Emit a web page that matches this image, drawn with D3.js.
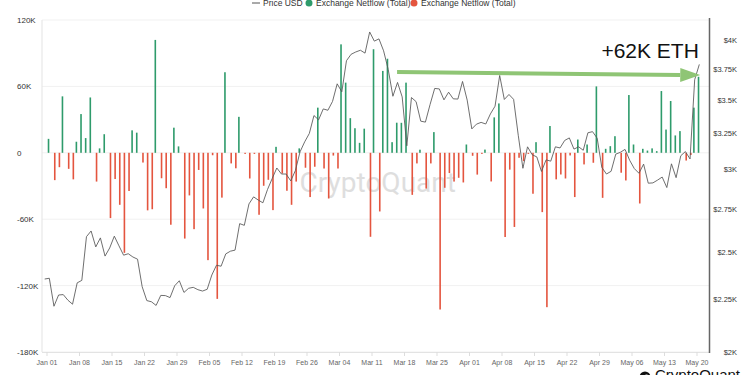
<!DOCTYPE html>
<html>
<head>
<meta charset="utf-8">
<script src="https://cdn.jsdelivr.net/npm/d3@7"></script>
<style>
    html, body { margin: 0; padding: 0; background: #fff; }
    svg { display: block; font-family: "Liberation Sans", Arial, sans-serif; }
</style>
</head>
<body>
<div id="chart"></div>
<script>
//--------------------------------------------------
// data
//--------------------------------------------------

// week tick labels (day index from Jan 01)
const tickDays = [0, 7, 14, 21, 28, 35, 42, 49, 56, 63, 70, 77, 84, 91, 98, 105, 112, 119, 126, 133, 140];
const tickLabels = ["Jan 01", "Jan 08", "Jan 15", "Jan 22", "Jan 29", "Feb 05", "Feb 12", "Feb 19", "Feb 26",
    "Mar 04", "Mar 11", "Mar 18", "Mar 25", "Apr 01", "Apr 08", "Apr 15", "Apr 22", "Apr 29", "May 06", "May 13", "May 20"];

// exchange netflow, thousands of ETH, Jan 01 .. May 20
const netflow = [
    12.6, -24.7, -13, 51, -14.5, -24, 10, 35, 13.3, 50,
    -26, 4, 16.8, -59, -23.7, -47, -90.4, -34.5, 20.3, 18.2,
    -8.8, -52, -51, 102, -23, -32, -65, 22.7, 5.8, -77.5,
    -38.5, -69, -15.5, -50.3, -97, -2.2, -132, -40.5, 72.8, -9.6,
    -14, 32.5, -1, -23.2, -1, -56, -29.8, -24.4, -51.8, 5.4,
    -18.7, -34.3, -47, -26, 4, -13.5, -40, -12.6, 40.8, -14.2,
    -41.3, -2.5, -14.2, 98, 63.4, 31.3, 22.2, 9, 21.8, -75.9,
    93.6, -53, 74, 85, 9.6, 27.2, 27.1, 63.4, -38, -9.6,
    2.8, -32.3, -9.6, 18.7, -141.6, -31.6, -18.3, -26, -22.6, -26.8,
    7.5, -2.7, -19.7, -1, 2.9, -25.9, 32, 44.6, -76.1, -15.2,
    -67, -4.5, -7.5, -1, -37, 9.6, -53.6, -139.5, 24.2, -24,
    -19.6, -23.2, -2.4, -40, 12, -10.5, 7.5, -9, 60, -40.7,
    3.6, 6, 15, -18, -25, 52.2, 7.5, -45.8, 3.6, 2,
    4, 1.5, 55.8, 21, 46.8, 15.7, 19.6, -7, -2, 40.8,
    68.7
];

// ETH price USD, Jan 01 .. May 21
const priceUSD = [
    2352, 2356, 2214, 2270, 2272, 2244, 2224, 2332, 2345, 2584, 2617, 2526, 2577, 2475, 2520, 2587,
    2532, 2480, 2488, 2470, 2458, 2312, 2242, 2236, 2218, 2268, 2267, 2257, 2317, 2343, 2283,
    2304, 2309, 2297, 2290, 2299, 2373, 2425, 2420, 2487, 2502, 2508, 2660, 2650, 2779, 2823,
    2803, 2786, 2870, 2940, 3010, 2970, 2970, 2925, 2993, 3120, 3190, 3250, 3382, 3350,
    3432, 3422, 3490, 3629, 3565, 3820, 3875, 3895, 3910, 3885, 4072, 3990, 4010, 3905, 3745,
    3530, 3640, 3525, 3162, 3520, 3488, 3340, 3333, 3465, 3592, 3588, 3502, 3562, 3510, 3508, 3648,
    3500, 3283, 3318, 3331, 3319, 3394, 3453, 3697, 3505, 3544, 3506, 3237, 3008, 3155, 3100,
    3085, 2987, 3065, 3056, 3155, 3147, 3200, 3218, 3139, 3155, 3131, 3255, 3263, 3216, 3014,
    2970, 2988, 3104, 3117, 3137, 3062, 3006, 2975, 3036, 2910, 2912, 2930, 2950, 2882, 3038,
    2946, 3093, 3122, 3071, 3662, 3789
];

const flowTicks = [120, 60, 0, -60, -120, -180];
const priceTicks = [2000, 2250, 2500, 2750, 3000, 3250, 3500, 3750, 4000];

// annotation: arrow across the chart, in day / flow units
const arrowFrom = { day: 75.4, flow: 73 };
const arrowTo = { day: 140.7, flow: 70.2 };
const arrowLabel = { day: 140.4, flow: 85.5, text: "+62K ETH" };

const color_Up = "#2e9b6b";
const color_Down = "#e4553f";
const color_Price = "#555555";
const color_Arrow = "#8fc575";

//--------------------------------------------------
// draw
//--------------------------------------------------

const width = 750, height = 375;

const svg = d3.select("#chart").append("svg")
    .attr("width", width)
    .attr("height", height);

const x = d3.scaleLinear().domain([0, 140]).range([47, 697]);
const yFlow = d3.scaleLinear().domain([-180, 120]).range([352, 20]);
const yPrice = d3.scaleLog().domain([2000, 4000]).range([352, 40]);

const left = 42, right = 709.5;

// grid
svg.append("g")
    .selectAll("line")
    .data(flowTicks)
    .enter()
    .append("line")
    .attr("x1", left).attr("x2", right)
    .attr("y1", d => yFlow(d)).attr("y2", d => yFlow(d))
    .attr("stroke", "#f1f1f1");

// watermark
svg.append("text")
    .attr("x", (left + right) / 2 + 2)
    .attr("y", 192)
    .attr("text-anchor", "middle")
    .attr("font-family", "Roboto, 'Liberation Sans', sans-serif")
    .attr("font-size", 28)
    .attr("fill", "#dedede")
    .text("CryptoQuant");

// left axis line + x axis line
svg.append("line")
    .attr("x1", left).attr("x2", left)
    .attr("y1", 20).attr("y2", 352)
    .attr("stroke", "#e3e3e3");
svg.append("line")
    .attr("x1", left).attr("x2", right)
    .attr("y1", 352.5).attr("y2", 352.5)
    .attr("stroke", "#e3e3e3");

// bars
const barW = 1.6;
svg.append("g")
    .selectAll("rect")
    .data(netflow)
    .enter()
    .append("rect")
    .attr("x", (d, i) => d >= 0 ? x(i + 0.5) - barW : x(i + 0.5))
    .attr("y", d => yFlow(Math.max(d, 0)))
    .attr("width", barW)
    .attr("height", d => Math.abs(yFlow(d) - yFlow(0)))
    .attr("fill", d => d >= 0 ? color_Up : color_Down);

// price line
const line = d3.line()
    .x((d, i) => x(i - 0.5))
    .y(d => yPrice(d));

svg.append("path")
    .datum(priceUSD)
    .attr("d", line)
    .attr("fill", "none")
    .attr("stroke", color_Price)
    .attr("stroke-width", 0.85)
    .attr("stroke-linejoin", "round");

// left axis labels
svg.append("g")
    .selectAll("text")
    .data(flowTicks)
    .enter()
    .append("text")
    .attr("x", 17)
    .attr("y", d => yFlow(d) + 3)
    .attr("font-size", 8)
    .attr("fill", "#333")
    .text(d => d === 0 ? "0" : d + "K");

// right axis
svg.append("line")
    .attr("x1", right).attr("x2", right)
    .attr("y1", 18).attr("y2", 353)
    .attr("stroke", "#666")
    .attr("stroke-width", 1.5);

svg.append("g")
    .selectAll("text")
    .data(priceTicks)
    .enter()
    .append("text")
    .attr("x", 737)
    .attr("y", d => yPrice(d) + 3)
    .attr("text-anchor", "end")
    .attr("font-size", 7.5)
    .attr("fill", "#333")
    .text(d => "$" + (d / 1000) + "K");

// x axis ticks + labels
const xTicks = svg.append("g")
    .selectAll("g")
    .data(tickDays)
    .enter()
    .append("g");

xTicks.append("line")
    .attr("x1", d => x(d)).attr("x2", d => x(d))
    .attr("y1", 352).attr("y2", 356)
    .attr("stroke", "#ddd");

xTicks.append("text")
    .attr("x", d => x(d))
    .attr("y", 365)
    .attr("text-anchor", "middle")
    .attr("font-size", 7)
    .attr("fill", "#666")
    .text((d, i) => tickLabels[i]);

// legend (cut at the top like the source)
const legend = svg.append("g");
legend.append("line")
    .attr("x1", 252).attr("x2", 260)
    .attr("y1", 3).attr("y2", 3)
    .attr("stroke", color_Price);
legend.append("text").attr("x", 263).attr("y", 6).attr("font-size", 8.5).attr("fill", "#333").text("Price USD");
legend.append("circle").attr("cx", 309).attr("cy", 3).attr("r", 3.5).attr("fill", color_Up);
legend.append("text").attr("x", 316).attr("y", 6).attr("font-size", 8.5).attr("fill", "#333").text("Exchange Netflow (Total)");
legend.append("circle").attr("cx", 414).attr("cy", 3).attr("r", 3.5).attr("fill", color_Down);
legend.append("text").attr("x", 421).attr("y", 6).attr("font-size", 8.5).attr("fill", "#333").text("Exchange Netflow (Total)");

// arrow annotation
const ax1 = x(arrowFrom.day), ay1 = yFlow(arrowFrom.flow);
const ax2 = x(arrowTo.day), ay2 = yFlow(arrowTo.flow);
const ang = Math.atan2(ay2 - ay1, ax2 - ax1);
const headLen = 20, headHalf = 7;
const bx = ax2 - headLen * Math.cos(ang), by = ay2 - headLen * Math.sin(ang);

svg.append("line")
    .attr("x1", ax1).attr("y1", ay1)
    .attr("x2", bx).attr("y2", by)
    .attr("stroke", color_Arrow)
    .attr("stroke-width", 4);

svg.append("path")
    .attr("d", `M${ax2},${ay2} L${bx - headHalf * Math.sin(ang)},${by + headHalf * Math.cos(ang)} L${bx + headHalf * Math.sin(ang)},${by - headHalf * Math.cos(ang)} Z`)
    .attr("fill", color_Arrow);

svg.append("text")
    .attr("x", x(arrowLabel.day))
    .attr("y", yFlow(arrowLabel.flow))
    .attr("text-anchor", "end")
    .attr("font-size", 21)
    .attr("fill", "#111")
    .text(arrowLabel.text);

// bottom-right logo (cut by the bottom edge like the source)
svg.append("circle").attr("cx", 645).attr("cy", 377).attr("r", 5.5).attr("fill", "#111");
svg.append("circle").attr("cx", 646.5).attr("cy", 377).attr("r", 2.5).attr("fill", "#fff");
svg.append("text")
    .attr("x", 655)
    .attr("y", 380)
    .attr("font-size", 15)
    .attr("fill", "#111")
    .text("CryptoQuant");
</script>
</body>
</html>
